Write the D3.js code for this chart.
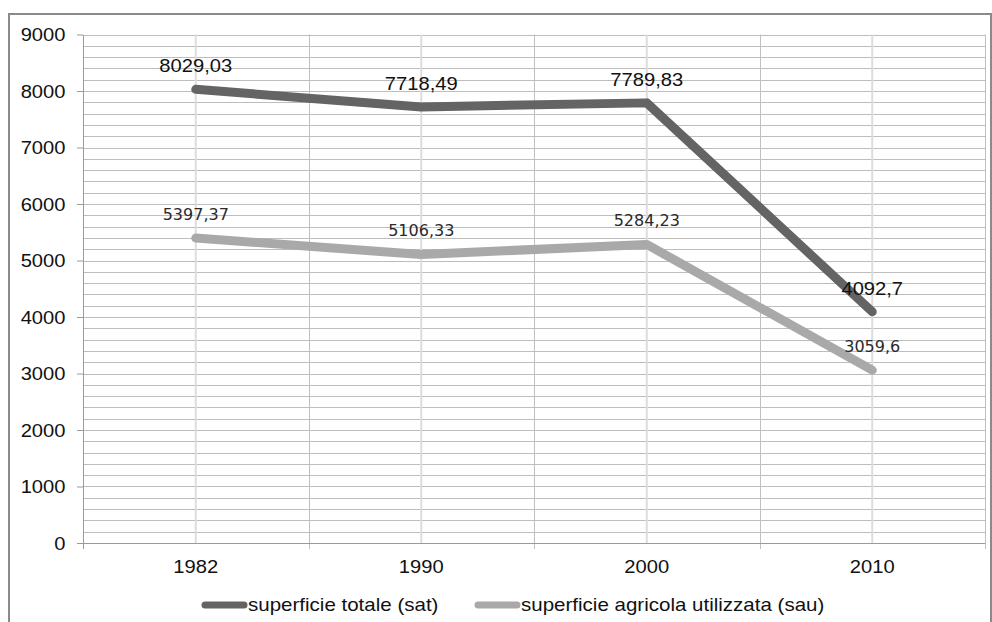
<!DOCTYPE html>
<html><head><meta charset="utf-8">
<script src="https://cdn.jsdelivr.net/npm/d3@7"></script>
<style>body{margin:0;background:#fff}svg{display:block}</style>
</head><body>
<script>
const categories = ["1982","1990","2000","2010"];
const satValues = [8029.03, 7718.49, 7789.83, 4092.7];
const sauValues = [5397.37, 5106.33, 5284.23, 3059.6];
const satLabels = ["8029,03","7718,49","7789,83","4092,7"];
const sauLabels = ["5397,37","5106,33","5284,23","3059,6"];
const yTicks = [0,1000,2000,3000,4000,5000,6000,7000,8000,9000];
const seriesNames = ["superficie totale (sat)","superficie agricola utilizzata (sau)"];

const W = 992, H = 622;
const svg = d3.select("body").append("svg").attr("width", W).attr("height", H);
svg.append("rect").attr("x",9).attr("y",14).attr("width",982).attr("height",640)
  .attr("fill","#fff").attr("stroke","#8a8a8a").attr("stroke-width",2);

const L = 83, R = 985, T = 34.5, B = 543;
const x = d3.scaleBand().domain(categories).range([L, R]);
const y = d3.scaleLinear().domain([0, 9000]).range([B, T]);
const cx = c => x(c) + x.bandwidth() / 2;
const SX = 1.12;
const FS = 18;
const arial = "'Liberation Sans', Arial, sans-serif";

// horizontal gridlines every 200
const minor = d3.range(200, 9001, 200);
svg.append("g").selectAll("line").data(minor).join("line")
  .attr("x1", L).attr("x2", R)
  .attr("y1", d => Math.round(y(d)) + 0.5).attr("y2", d => Math.round(y(d)) + 0.5)
  .attr("stroke", "#bdbdbd").attr("stroke-width", 1.2);
// vertical gridlines at category centers
svg.append("g").selectAll("line").data(categories).join("line")
  .attr("x1", d => cx(d)).attr("x2", d => cx(d)).attr("y1", T).attr("y2", B)
  .attr("stroke", "#dddddd").attr("stroke-width", 2);
// vertical gridlines at band boundaries
const bounds = categories.map(c => x(c)).slice(1).concat([R]);
svg.append("g").selectAll("line").data(bounds).join("line")
  .attr("x1", d => Math.round(d) + 0.5).attr("x2", d => Math.round(d) + 0.5).attr("y1", T).attr("y2", B + 6)
  .attr("stroke", "#c0c0c0").attr("stroke-width", 1);

// axes
const ya = svg.append("g").attr("transform", `translate(${L},0)`)
  .call(d3.axisLeft(y).tickValues(yTicks).tickSize(6).tickSizeOuter(0).tickFormat(d3.format("d")));
ya.select(".domain").attr("stroke", "#9a9a9a");
ya.selectAll(".tick line").attr("stroke", "#9a9a9a");
ya.selectAll(".tick text").attr("x", 0).attr("dy", null).attr("dominant-baseline", "central")
  .attr("font-family", arial).attr("font-size", FS).attr("fill", "#111")
  .attr("text-anchor", "end")
  .attr("transform", `translate(-17.5,0) scale(${SX},1)`);

svg.append("line").attr("x1", L).attr("x2", R).attr("y1", B + 0.5).attr("y2", B + 0.5)
  .attr("stroke", "#9a9a9a");
svg.append("line").attr("x1", L + 0.5).attr("x2", L + 0.5).attr("y1", B).attr("y2", B + 6)
  .attr("stroke", "#9a9a9a");

svg.append("g").selectAll("text").data(categories).join("text")
  .attr("transform", d => `translate(${cx(d)},573) scale(${SX},1)`)
  .attr("text-anchor", "middle").attr("font-family", arial).attr("font-size", FS).attr("fill", "#111")
  .text(d => d);

// lines
const line = d3.line().x((d, i) => cx(categories[i])).y(d => y(d));
svg.append("path").datum(sauValues).attr("d", line).attr("fill", "none")
  .attr("stroke", "#a9a9a9").attr("stroke-width", 9).attr("stroke-linecap", "round").attr("stroke-linejoin", "round");
svg.append("path").datum(satValues).attr("d", line).attr("fill", "none")
  .attr("stroke", "#646464").attr("stroke-width", 9).attr("stroke-linecap", "round").attr("stroke-linejoin", "round");

// labels
svg.append("g").selectAll("text").data(satValues).join("text")
  .attr("transform", (d, i) => `translate(${cx(categories[i])},${y(d) - 17}) scale(${SX},1)`)
  .attr("text-anchor", "middle").attr("font-family", arial).attr("font-size", FS).attr("fill", "#111")
  .text((d, i) => satLabels[i]);
svg.append("g").selectAll("text").data(sauValues).join("text")
  .attr("x", (d, i) => cx(categories[i])).attr("y", d => y(d) - 18)
  .attr("text-anchor", "middle").attr("font-family", "'DejaVu Sans', Verdana, sans-serif").attr("font-size", 16).attr("fill", "#2a2a2a")
  .text((d, i) => sauLabels[i]);

// legend
const legend = [{name: seriesNames[0], color: "#646464", x: 202}, {name: seriesNames[1], color: "#a9a9a9", x: 475}];
const lg = svg.append("g").selectAll("g").data(legend).join("g");
lg.append("line").attr("x1", d => d.x + 3).attr("x2", d => d.x + 42).attr("y1", 605).attr("y2", 605)
  .attr("stroke", d => d.color).attr("stroke-width", 7).attr("stroke-linecap", "round");
lg.append("text").attr("transform", d => `translate(${d.x + 46},611) scale(1.14,1)`)
  .attr("font-family", arial).attr("font-size", FS).attr("fill", "#111")
  .text(d => d.name);
</script>
</body></html>
